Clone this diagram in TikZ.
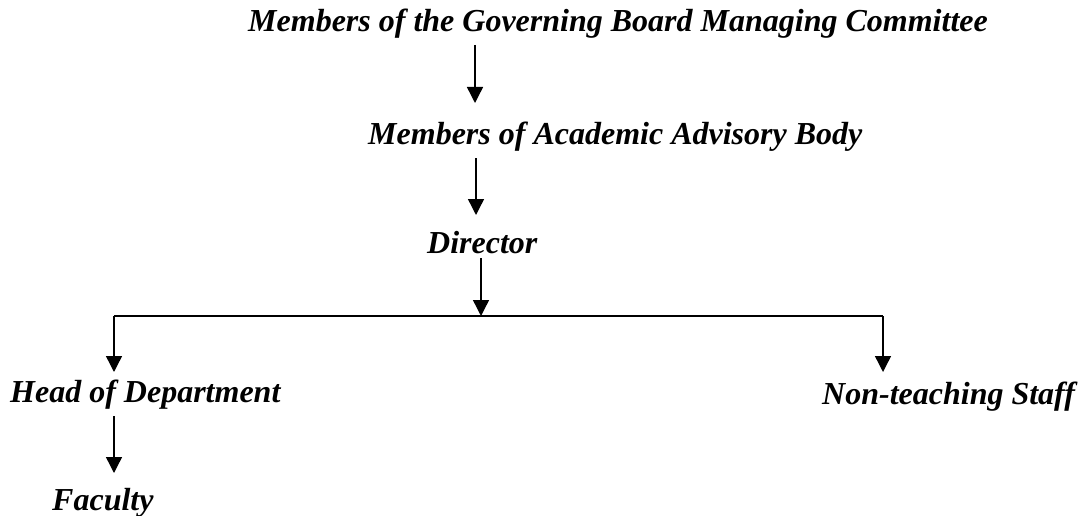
\documentclass[tikz,border=0pt]{standalone}
\usepackage{fontspec}
\setmainfont{Liberation Serif}
\usetikzlibrary{arrows.meta}
\begin{document}
\begin{tikzpicture}[x=1pt,y=-1pt,
  lbl/.style={anchor=base west,inner sep=0pt,font=\fontsize{32}{38}\selectfont\bfseries\itshape},
  conn/.style={line width=1.4pt},
  arr/.style={conn,-{Triangle[length=16pt,width=16pt]}}]
\useasboundingbox (0,0) rectangle (1084,516);
\node[lbl] (gb) at (248,32) {Members of the Governing Board Managing Committee};
\node[lbl] (aab) at (368,145) {Members of Academic Advisory Body};
\node[lbl] (dir) at (427,253) {Director};
\node[lbl] (hod) at (10,402) {Head of Department};
\node[lbl] (nts) at (822,404) {Non-teaching Staff};
\node[lbl] (fac) at (52,510) {Faculty};
\coordinate (a1s) at (475,45);  \coordinate (a1e) at (475,103);
\coordinate (a2s) at (476,158); \coordinate (a2e) at (476,215);
\coordinate (a3s) at (481,258); \coordinate (a3e) at (481,316);
\coordinate (bl) at (114,316);  \coordinate (br) at (883,316);
\coordinate (hl) at (114,372);  \coordinate (hr) at (883,372);
\coordinate (a4s) at (114,416); \coordinate (a4e) at (114,473);
\draw[arr] (a1s) -- (a1e);
\draw[arr] (a2s) -- (a2e);
\draw[arr] (a3s) -- (a3e);
\draw[conn] (bl) -- (br);
\draw[arr] (bl) -- (hl);
\draw[arr] (br) -- (hr);
\draw[arr] (a4s) -- (a4e);
\end{tikzpicture}
\end{document}
